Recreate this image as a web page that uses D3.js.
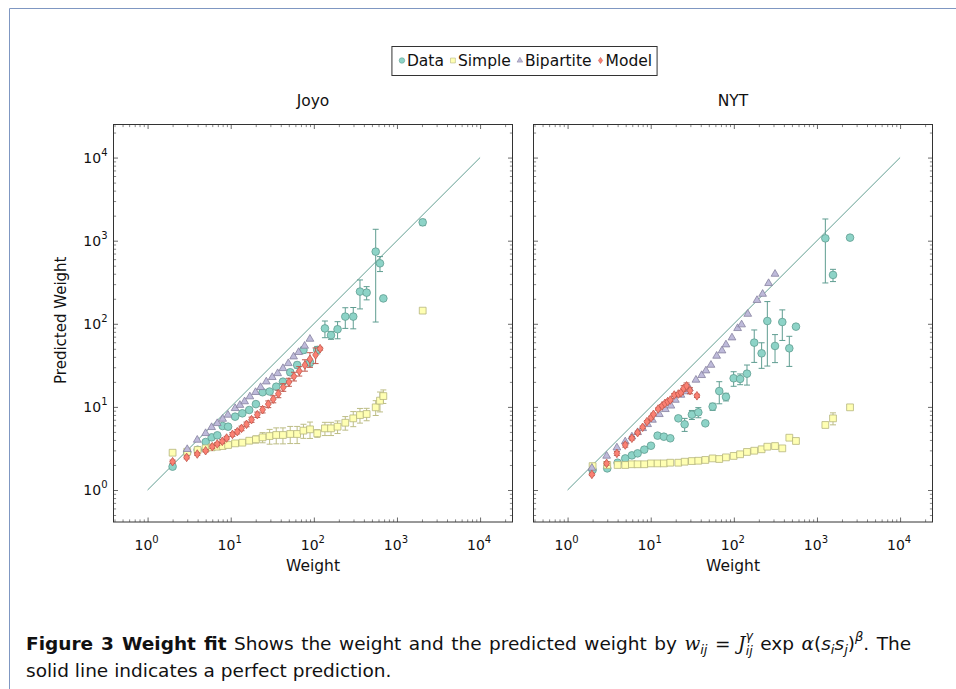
<!DOCTYPE html>
<html>
<head>
<meta charset="utf-8">
<script src="https://cdn.jsdelivr.net/npm/d3@7"></script>
<style>
  body { margin: 0; background: #fff; }
  text { font-family: "DejaVu Sans", sans-serif; fill: #111; }
</style>
</head>
<body>
<svg id="chart" width="956" height="689"></svg>
<script>
// ---- data ----
var panelNames = ["Joyo", "NYT"];
var seriesNames = ["Data", "Simple", "Bipartite", "Model"];
var majorTicks = [1, 10, 100, 1000, 10000];
var tickExponents = ["0", "1", "2", "3", "4"];

// Joyo
var joyoDataX = [2, 3, 4, 5, 5.9, 6.9, 8, 9.3, 11.3, 13.8, 16.7, 20.1, 24.2, 29.4, 35.3, 42.5,
  52, 63, 75, 90, 110, 136, 161, 193, 239, 298, 359, 432, 555, 625, 686, 2040];
var joyoDataY = [1.91, 2.85, 3.05, 3.78, 4.3, 4.55, 5.89, 5.78, 7.63, 8.37, 9.18, 10.8, 15.0, 15.3, 17.5, 20.1,
  26.1, 31.9, 48.4, 34.1, 48.4, 88, 73, 86, 122, 122, 244, 237, 738, 534, 202, 1663];
var joyoDataErr = [0, 0, 0, 0, 0, 0, 0.2, 0.2, 0.3, 0.3, 0.4, 0.5, 0.8, 0.8, 1, 1.2,
  1.8, 2.5, 4, 3, 5, 20, 8, 20, 34, 35, 93, 43, 633, 109, 0, 144];
var joyoSimpleY = [2.81, 2.89, 3.03, 3.17, 3.26, 3.32, 3.38, 3.48, 3.64, 3.71, 3.92, 4.07, 4.3, 4.46, 4.59, 4.59,
  4.72, 4.72, 5.18, 5.37, 4.81, 5.52, 5.52, 5.78, 6.45, 7.28, 7.98, 8.21, 9.88, 11.9, 13.5, 144];
var joyoSimpleErr = [0, 0, 0, 0, 0.05, 0.05, 0.1, 0.1, 0.15, 0.2, 0.3, 0.4, 0.6, 0.9, 1.0, 1.0,
  1.1, 1.1, 1.0, 1.2, 0.5, 1.0, 1.0, 1.0, 1.2, 1.5, 1.6, 1.4, 2.0, 3.2, 2.5, 0];
var joyoBipX = [3, 3.96, 4.99, 5.89, 6.89, 8, 9.26, 11.3, 12.9, 14.7, 17, 19.9, 22.9, 26.8, 31.6, 36.7,
  42.5, 49.3, 57.1, 65.6, 77.5, 89.8];
var joyoBipY = [3.09, 4.0, 4.81, 5.68, 6.34, 7.15, 8.0, 9.61, 10.5, 11.6, 13.3, 15.0, 17.2, 20.1, 22.7, 25.3,
  29.1, 33.4, 40.2, 45.4, 54.1, 65.6];
var joyoModelX = [2, 2.95, 3.96, 4.99, 6, 6.89, 7.92, 8.93, 10.5, 12, 13.5, 15.5, 17.8, 20.9, 24.2, 28.3,
  32.5, 37.4, 42.9, 50.2, 57.7, 66.8, 78.2, 89.8, 105, 119];
var joyoModelY = [2.19, 2.47, 2.71, 2.97, 3.32, 3.58, 3.85, 4.22, 4.67, 5.03, 5.52, 6.17, 7.02, 8.06, 9.26, 10.8,
  12.4, 14.4, 17.2, 19.9, 23.3, 27.0, 31.9, 37.4, 42.2, 50.2];
var joyoModelErr = [0.1, 0.1, 0.1, 0.1, 0.15, 0.15, 0.2, 0.2, 0.25, 0.3, 0.35, 0.4, 0.5, 0.6, 0.8, 1.0,
  1.2, 1.5, 1.8, 2.2, 2.8, 3.5, 5, 7.5, 9, 2];

// NYT
var nytDataX = [2, 3, 4, 4.94, 5.94, 6.96, 8.37, 10.07, 12.1, 14.4, 17.2, 21.5, 25.6, 31.3, 37.4, 45.4,
  55.6, 66.8, 80.4, 99.5, 119, 144, 176, 216, 253, 313, 383, 465, 559, 1262, 1560, 2500];
var nytDataY = [1.74, 1.82, 2.13, 2.4, 2.61, 2.76, 3.06, 3.41, 4.51, 4.38, 4.19, 7.28, 6.17, 8.06, 8.6, 6.34,
  10.07, 15.5, 13.2, 22.1, 21.7, 25.1, 59.3, 44.1, 108, 54.1, 105, 50.7, 92.4, 1067, 387, 1088];
var nytDataErr = [0, 0, 0, 0, 0, 0, 0, 0, 0.1, 0.1, 0.1, 0.4, 1.1, 1, 1.2, 0.3,
  1, 4.6, 1.4, 4.4, 3.2, 6.8, 25, 15, 77, 20, 42, 20, 0, 757, 65, 0];
var nytSimpleY = [1.94, 2.0, 2.0, 2.0, 2.04, 2.04, 2.04, 2.09, 2.09, 2.09, 2.13, 2.13, 2.19, 2.23, 2.25, 2.3,
  2.4, 2.36, 2.47, 2.57, 2.69, 2.87, 2.97, 3.09, 3.32, 3.38, 3.17, 4.26, 3.89, 6.06, 7.28, 9.88];
var nytSimpleErr = [0, 0, 0, 0, 0, 0, 0, 0, 0, 0, 0, 0, 0, 0, 0, 0,
  0, 0, 0, 0, 0, 0, 0, 0, 0, 0, 0, 0, 0, 0, 1.2, 0];
var nytBipX = [1.96, 2.95, 3.92, 4.94, 5.94, 6.96, 8.0, 9.18, 10.5, 12.7, 15.0, 17.5, 19.8, 23.1, 26.1, 29.1,
  35.0, 41.0, 46.2, 53.1, 62.1, 72.0, 80.4, 95.0, 111, 124, 147, 190, 222, 262, 313];
var nytBipY = [1.84, 2.57, 3.23, 3.82, 4.38, 4.94, 5.52, 6.17, 6.96, 8.14, 9.35, 10.3, 12.1, 13.9, 15.3, 16.7,
  21.1, 24.0, 27.3, 31.9, 41.0, 47.5, 56.1, 68.1, 88.2, 97.7, 131, 192, 228, 307, 397];
var nytModelX = [1.96, 2.95, 3.92, 4.94, 5.94, 6.96, 8.0, 9.01, 10.1, 10.8, 12.3, 13.7, 14.8, 16.0, 17.2, 19.2,
  21.5, 23.1, 24.9, 27.0, 29.7, 36.0];
var nytModelY = [1.54, 2.09, 2.76, 3.48, 4.19, 4.9, 5.68, 6.64, 7.42, 8.14, 9.43, 10.3, 11.0, 11.6, 12.1, 13.9,
  14.3, 14.8, 16.7, 17.9, 15.7, 13.6];
var nytModelErr = [0.05, 0.1, 0.15, 0.2, 0.2, 0.2, 0.2, 0.2, 0.3, 0.3, 0.3, 0.4, 0.4, 0.5, 0.5, 0.6,
  0.6, 0.7, 1.3, 1.5, 1.3, 0.6];

// ---- build series (tables the drawing code walks over) ----
function zip(xs, ys, es) {
  return xs.map(function(x, i) { return { x: x, y: ys[i], e: es ? es[i] : 0 }; });
}
var panelSeries = [
  [zip(joyoDataX, joyoDataY, joyoDataErr), zip(joyoDataX, joyoSimpleY, joyoSimpleErr),
   zip(joyoBipX, joyoBipY), zip(joyoModelX, joyoModelY, joyoModelErr)],
  [zip(nytDataX, nytDataY, nytDataErr), zip(nytDataX, nytSimpleY, nytSimpleErr),
   zip(nytBipX, nytBipY), zip(nytModelX, nytModelY, nytModelErr)]
];

// ---- styles ----
var styles = [
  { fill: "#8dd3c7", stroke: "#5f9d91", err: "#5f9d91", shape: "circle" },
  { fill: "#ffffb3", stroke: "#b5b57c", err: "#bdbd86", shape: "square" },
  { fill: "#bebada", stroke: "#86829f", err: "#86829f", shape: "triangle" },
  { fill: "#fb8072", stroke: "#c0584c", err: "#c0584c", shape: "diamond" }
];

function markerPath(shape) {
  if (shape === "circle") return d3.symbol(d3.symbolCircle, 46)();
  if (shape === "square") return d3.symbol(d3.symbolSquare, 46)();
  if (shape === "triangle") return d3.symbol(d3.symbolTriangle, 26)();
  return "M0,-4.3L2.9,0L0,4.3L-2.9,0Z";
}

var svg = d3.select("#chart");

// page frame
svg.append("path")
  .attr("d", "M9.5,689V8.5H956")
  .attr("fill", "none")
  .attr("stroke", "#7f97c2")
  .attr("stroke-width", 1);

var panelW = 399, panelH = 397.5, panelTop = 124.5;
var panelLefts = [113.5, 533.5];

var x = d3.scaleLog().domain([Math.pow(10, -0.41), Math.pow(10, 4.39)]).range([0, panelW]);
var y = d3.scaleLog().domain([Math.pow(10, -0.385), Math.pow(10, 4.398)]).range([panelH, 0]);

// minor ticks for log axes
function minorTicks(scale) {
  var dom = scale.domain(), out = [];
  for (var k = -1; k <= 4; k++) {
    for (var m = 2; m <= 9; m++) {
      var v = m * Math.pow(10, k);
      if (v >= dom[0] && v <= dom[1]) out.push(v);
    }
  }
  return out;
}

panelSeries.forEach(function(series, p) {
  var g = svg.append("g")
    .attr("transform", "translate(" + panelLefts[p] + "," + panelTop + ")");

  // ticks on all sides, pointing inward
  [[d3.axisBottom(x), "translate(0," + panelH + ")"],
   [d3.axisTop(x), "translate(0,0)"],
   [d3.axisLeft(y), "translate(0,0)"],
   [d3.axisRight(y), "translate(" + panelW + ",0)"]].forEach(function(a) {
    var sc = a[0].scale();
    var gm = g.append("g").attr("transform", a[1])
      .call(a[0].tickValues(minorTicks(sc)).tickSize(-2.6).tickFormat(""));
    gm.select(".domain").remove();
    gm.selectAll("line").attr("stroke", "#555").attr("stroke-width", 0.7);
    var gM = g.append("g").attr("transform", a[1])
      .call(a[0].tickValues(majorTicks).tickSize(-4.5).tickFormat(""));
    gM.select(".domain").remove();
    gM.selectAll("line").attr("stroke", "#444").attr("stroke-width", 0.8);
  });

  // x tick labels
  majorTicks.forEach(function(t, i) {
    var tx = g.append("text")
      .attr("x", x(t) - 1)
      .attr("y", panelH + 28)
      .attr("text-anchor", "middle")
      .attr("font-size", 14);
    tx.append("tspan").text("10");
    tx.append("tspan").attr("dy", -7).attr("font-size", 10).text(tickExponents[i]);
  });

  // y tick labels (left panel only)
  if (p === 0) {
    majorTicks.forEach(function(t, i) {
      var ty = g.append("text")
        .attr("x", -6)
        .attr("y", y(t) + 5)
        .attr("text-anchor", "end")
        .attr("font-size", 14);
      ty.append("tspan").text("10");
      ty.append("tspan").attr("dy", -7).attr("font-size", 10).text(tickExponents[i]);
    });
    g.append("text")
      .attr("transform", "translate(-48," + (panelH / 2 - 3) + ") rotate(-90)")
      .attr("text-anchor", "middle")
      .attr("font-size", 15)
      .text("Predicted Weight");
  }

  g.append("text")
    .attr("x", panelW / 2)
    .attr("y", panelH + 49)
    .attr("text-anchor", "middle")
    .attr("font-size", 15.5)
    .text("Weight");

  g.append("text")
    .attr("x", panelW / 2)
    .attr("y", -19)
    .attr("text-anchor", "middle")
    .attr("font-size", 15.5)
    .text(panelNames[p]);

  // perfect-prediction line
  g.append("line")
    .attr("x1", x(1)).attr("y1", y(1))
    .attr("x2", x(10000)).attr("y2", y(10000))
    .attr("stroke", "#4f9384")
    .attr("stroke-width", 0.9);

  // series: error bars then marks
  series.forEach(function(pts, s) {
    var st = styles[s];
    var eb = g.append("g").selectAll("g")
      .data(pts.filter(function(d) { return d.e > 0; }))
      .enter().append("g")
      .attr("stroke", st.err)
      .attr("stroke-width", 1);
    eb.append("line")
      .attr("x1", d => x(d.x)).attr("x2", d => x(d.x))
      .attr("y1", d => y(d.y + d.e))
      .attr("y2", d => y(Math.max(d.y - d.e, 0.42)));
    eb.append("line")
      .attr("x1", d => x(d.x) - 3).attr("x2", d => x(d.x) + 3)
      .attr("y1", d => y(d.y + d.e)).attr("y2", d => y(d.y + d.e));
    eb.append("line")
      .attr("x1", d => x(d.x) - 3).attr("x2", d => x(d.x) + 3)
      .attr("y1", d => y(Math.max(d.y - d.e, 0.42))).attr("y2", d => y(Math.max(d.y - d.e, 0.42)));

    g.append("g").selectAll("path")
      .data(pts)
      .enter().append("path")
      .attr("transform", d => "translate(" + x(d.x) + "," + y(d.y) + ")")
      .attr("d", markerPath(st.shape))
      .attr("fill", st.fill)
      .attr("stroke", st.stroke)
      .attr("stroke-width", 0.8);
  });

  // frame
  g.append("rect")
    .attr("width", panelW).attr("height", panelH)
    .attr("fill", "none")
    .attr("stroke", "#333")
    .attr("stroke-width", 1);
});

// ---- legend ----
var legend = svg.append("g");
var legendBox = legend.append("rect")
  .attr("fill", "#fff").attr("stroke", "#333").attr("stroke-width", 1);
var lx = 0;
seriesNames.forEach(function(name, i) {
  var it = legend.append("g").attr("transform", "translate(" + lx + ",0)");
  it.append("path")
    .attr("d", markerPath(styles[i].shape))
    .attr("fill", styles[i].fill)
    .attr("stroke", styles[i].stroke)
    .attr("stroke-width", 0.8)
    .attr("transform", "translate(4,0) scale(0.72)");
  var t = it.append("text")
    .attr("x", 9).attr("y", 5.5)
    .attr("font-size", 15.5)
    .text(name);
  lx += 9 + t.node().getComputedTextLength() + 5;
});
var legendW = lx + 6;
var legendX = 524.5 - legendW / 2;
legend.attr("transform", "translate(" + (legendX + 6) + ",60.5)");
legendBox.attr("x", -6).attr("y", -14).attr("width", legendW).attr("height", 29);

// ---- caption (first line justified like TeX: stretch the word spaces) ----
var cap = svg.append("text").attr("x", 26).attr("y", 650).attr("font-size", 18.5);
cap.append("tspan").attr("font-weight", "bold").text("Figure 3 Weight fit");
cap.append("tspan").text(" Shows the weight and the predicted weight by ");
cap.append("tspan").attr("font-style", "italic").attr("font-family", "DejaVu Serif").text("w");
cap.append("tspan").attr("font-style", "italic").attr("font-size", 13).attr("dy", 4).text("ij");
cap.append("tspan").attr("dy", -4).text(" = ");
cap.append("tspan").attr("font-style", "italic").attr("font-family", "DejaVu Serif").text("J");
cap.append("tspan").attr("font-style", "italic").attr("font-size", 12.5).attr("dy", -10).text("γ");
cap.append("tspan").attr("font-style", "italic").attr("font-size", 12.5).attr("dx", -7).attr("dy", 15).text("ij");
cap.append("tspan").attr("dy", -5).text(" exp ");
cap.append("tspan").attr("font-style", "italic").attr("font-family", "DejaVu Serif").text("α");
cap.append("tspan").text("(");
cap.append("tspan").attr("font-style", "italic").text("s");
cap.append("tspan").attr("font-style", "italic").attr("font-size", 13).attr("dy", 4).text("i");
cap.append("tspan").attr("font-style", "italic").attr("dy", -4).text("s");
cap.append("tspan").attr("font-style", "italic").attr("font-size", 13).attr("dy", 4).text("j");
cap.append("tspan").attr("dy", -4).text(")");
cap.append("tspan").attr("font-style", "italic").attr("font-size", 13).attr("dy", -9).text("β");
cap.append("tspan").attr("dy", 9).text(". The");

var natural = cap.node().getComputedTextLength();
var spaces = cap.text().split(" ").length - 1;
if (natural < 892 && spaces > 0) {
  cap.attr("word-spacing", ((892 - natural) / spaces).toFixed(2));
}

svg.append("text").attr("x", 26).attr("y", 677).attr("font-size", 18.5)
  .text("solid line indicates a perfect prediction.");
</script>
</body>
</html>
